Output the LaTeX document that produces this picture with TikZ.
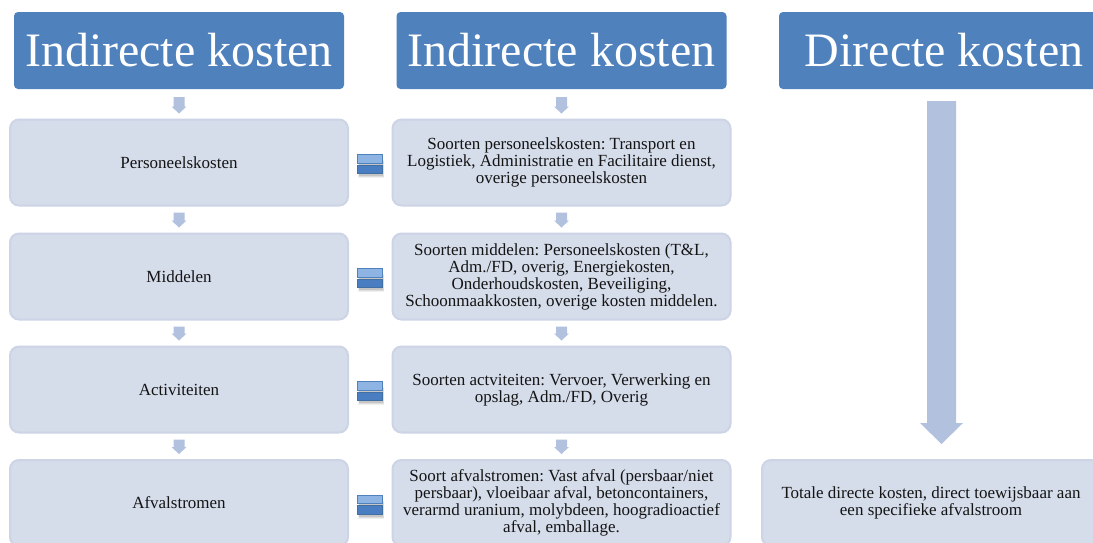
\documentclass[tikz,border=0pt]{standalone}
\usepackage{fontspec}
\setmainfont{Liberation Serif}
\usetikzlibrary{calc}
\frenchspacing
\definecolor{hdr}{HTML}{4F81BD}
\definecolor{boxfill}{HTML}{D5DCEA}
\definecolor{boxline}{HTML}{CCD4E6}
\definecolor{arr}{HTML}{B1C1DE}
\definecolor{eqlight}{HTML}{8EB4E3}
\definecolor{eqdark}{HTML}{4A7EC2}
\definecolor{txt}{HTML}{141414}
\newcommand{\blockarrow}[5]{%
  \fill[arr] let \p1=(#1), \p2=(#2) in
    (\x1-#3,\y1) -- (\x1+#3,\y1) -- (\x1+#3,\y2+#5) -- (\x1+#4,\y2+#5)
    -- (\x1,\y2) -- (\x1-#4,\y2+#5) -- (\x1-#3,\y2+#5) -- cycle;}
\newcommand{\eqsign}[1]{%
  \fill[black, opacity=0.06] ($(#1)+(-12,-14)$) rectangle ($(#1)+(14,4)$);
  \fill[black, opacity=0.08] ($(#1)+(-11.5,-13)$) rectangle ($(#1)+(13.5,3)$);
  \fill[black, opacity=0.10] ($(#1)+(-11,-12)$) rectangle ($(#1)+(13,2)$);
  \filldraw[fill=eqlight, draw=hdr, line width=0.8pt] ($(#1)+(-12.5,9.5)$) rectangle ($(#1)+(12.5,1)$);
  \filldraw[fill=eqdark, draw=hdr!85!black, line width=0.8pt] ($(#1)+(-12.5,-1)$) rectangle ($(#1)+(12.5,-9.5)$);}
\begin{document}
\begin{tikzpicture}[x=1pt,y=1pt,
  header/.style={fill=hdr, rounded corners=4pt, minimum width=330pt, minimum height=77pt,
    text=white, font=\fontsize{48}{50}\selectfont, inner sep=0pt},
  stepbox/.style={fill=boxfill, draw=boxline, line width=2pt, rounded corners=9pt,
    minimum width=338pt, minimum height=86pt, font=\fontsize{17}{17}\selectfont,
    align=center, inner sep=0pt, text=txt},
]
\clip (0,0) rectangle (1093,-542);
\fill[white] (0,0) rectangle (1093,-542);

% headers
\node[header] (h1) at (179,-50.5) {Indirecte kosten};
\node[header] (h2) at (561.5,-50.5) {Indirecte kosten};
\node[header] (h3) at (944,-50.5) {Directe kosten};

% left column
\node[stepbox] (p1) at (179,-162.5) {Personeelskosten};
\node[stepbox] (p2) at (179,-276.5) {Middelen};
\node[stepbox] (p3) at (179,-389.5) {Activiteiten};
\node[stepbox] (p4) at (179,-503) {Afvalstromen};

% middle column
\node[stepbox] (q1) at (561.5,-162.5) {Soorten personeelskosten: Transport en\\Logistiek, Administratie en Facilitaire dienst,\\overige personeelskosten};
\node[stepbox] (q2) at (561.5,-276.5) {Soorten middelen: Personeelskosten (T\&L,\\Adm./FD, overig, Energiekosten,\\Onderhoudskosten, Beveiliging,\\Schoonmaakkosten, overige kosten middelen.};
\node[stepbox] (q3) at (561.5,-389.5) {Soorten actviteiten: Vervoer, Verwerking en\\opslag, Adm./FD, Overig};
\node[stepbox] (q4) at (561.5,-503) {Soort afvalstromen: Vast afval (persbaar/niet\\persbaar), vloeibaar afval, betoncontainers,\\verarmd uranium, molybdeen, hoogradioactief\\afval, emballage.};

% right column
\node[stepbox] (t4) at (931,-503) {Totale directe kosten, direct toewijsbaar aan\\een specifieke afvalstroom};

% small arrows
\blockarrow{$(h1.south)+(0,-8)$}{$(p1.north)+(0,5)$}{5.5pt}{7.5pt}{7pt}
\blockarrow{$(p1.south)+(0,-6)$}{$(p2.north)+(0,5)$}{5.5pt}{7.5pt}{7pt}
\blockarrow{$(p2.south)+(0,-6)$}{$(p3.north)+(0,5)$}{5.5pt}{7.5pt}{7pt}
\blockarrow{$(p3.south)+(0,-6)$}{$(p4.north)+(0,5)$}{5.5pt}{7.5pt}{7pt}
\blockarrow{$(h2.south)+(0,-8)$}{$(q1.north)+(0,5)$}{5.5pt}{7.5pt}{7pt}
\blockarrow{$(q1.south)+(0,-6)$}{$(q2.north)+(0,5)$}{5.5pt}{7.5pt}{7pt}
\blockarrow{$(q2.south)+(0,-6)$}{$(q3.north)+(0,5)$}{5.5pt}{7.5pt}{7pt}
\blockarrow{$(q3.south)+(0,-6)$}{$(q4.north)+(0,5)$}{5.5pt}{7.5pt}{7pt}

% big arrow
\blockarrow{$(h3.south)+(-2.5,-12)$}{$(t4.north -| h3.south)+(-2.5,15)$}{14.5pt}{21.5pt}{21pt}

% equals signs
\coordinate (e1) at ($(p1.east)!0.5!(q1.west)+(0,-1.5)$);
\coordinate (e2) at ($(p2.east)!0.5!(q2.west)+(0,-1.5)$);
\coordinate (e3) at ($(p3.east)!0.5!(q3.west)+(0,-1.5)$);
\coordinate (e4) at ($(p4.east)!0.5!(q4.west)+(0,-1.5)$);
\eqsign{e1}
\eqsign{e2}
\eqsign{e3}
\eqsign{e4}
\end{tikzpicture}
\end{document}
